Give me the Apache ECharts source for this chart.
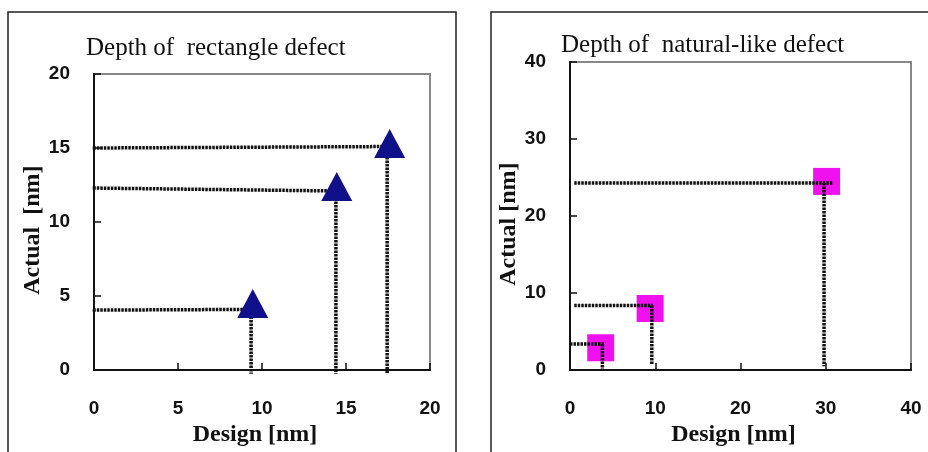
<!DOCTYPE html>
<html>
<head>
<meta charset="utf-8">
<script src="https://cdn.jsdelivr.net/npm/echarts@6/dist/echarts.min.js"></script>
<style>
  html, body { margin: 0; padding: 0; background: #fff; }
  #main { width: 928px; height: 452px; }
</style>
</head>
<body>
<div id="main"></div>
<script>
// left panel: rectangle defect (triangles)
var rectDesign = [9.45, 14.45, 17.6];
var rectActual = [4.5, 12.4, 15.3];
// guide lines drawn by hand in the original
var rectGuideX = [9.35, 14.4, 17.45];
var rectGuideYLeft = [4.05, 12.3, 15.0];
var rectGuideYRight = [4.1, 12.1, 15.1];
var rectGuideXStart = [-0.25, -0.25, -0.25];
var rectGuideBottom = [-0.25, -0.25, -0.25];

// right panel: natural-like defect (squares)
var natDesign = [3.6, 9.4, 30.1];
var natActual = [2.9, 8.0, 24.5];
var natGuideX = [3.8, 9.6, 29.8];
var natGuideY = [3.4, 8.4, 24.3];
var natGuideXStart = [0, 0.5, 0.5];
var natGuideXEnd = [4.0, 9.7, 30.9];
var natGuideBottom = [0, 0.8, 0.5];

var rectTicks = [0, 20, 5];
var natTicks = [0, 40, 10];

var myChart = echarts.init(document.getElementById('main'));

var dotLine = { color: '#111', width: 3.5, type: [2.5, 1] };
var labelFont = { fontFamily: 'Liberation Sans', fontWeight: 'bold', fontSize: 19, color: '#111' };
var nameFont = { fontFamily: 'Liberation Serif', fontWeight: 'bold', fontSize: 24, color: '#111' };
var titleFont = { fontFamily: 'Liberation Serif', fontWeight: 'normal', fontSize: 25, color: '#111' };

function guideSeries(idx, xs, ys, xe, ye) {
    var out = [];
    for (var i = 0; i < xs.length; i++) {
        out.push({
            type: 'line', xAxisIndex: idx, yAxisIndex: idx,
            data: [[xs[i], ys[i]], [xe[i], ye[i]]],
            symbol: 'none', clip: false, silent: true, z: 2,
            lineStyle: dotLine
        });
    }
    return out;
}

function makeAxis(ticks, gridIndex, isY, name, gap) {
    return {
        type: 'value', gridIndex: gridIndex,
        min: ticks[0], max: ticks[1], interval: ticks[2],
        name: name, nameLocation: 'middle', nameGap: gap,
        nameTextStyle: Object.assign({ padding: isY ? [0, 16, 0, 0] : [0, 14, 0, 0] }, nameFont),
        axisLine: { show: true, onZero: false, lineStyle: { color: '#111', width: 2 } },
        axisTick: { show: true, inside: true, length: 7, lineStyle: { color: '#111', width: 1.5 } },
        axisLabel: Object.assign({ margin: isY ? 24 : 29 }, labelFont),
        splitLine: { show: false }
    };
}

var series = [];
series = series.concat(guideSeries(0, rectGuideXStart, rectGuideYLeft, rectGuideX, rectGuideYRight));
series = series.concat(guideSeries(0, rectGuideX, rectGuideYRight, rectGuideX, rectGuideBottom));
series = series.concat(guideSeries(1, natGuideXStart, natGuideY, natGuideXEnd, natGuideY));
series = series.concat(guideSeries(1, natGuideX, natGuideY, natGuideX, natGuideBottom));

series.push({
    type: 'scatter', xAxisIndex: 0, yAxisIndex: 0, z: 5,
    symbol: 'triangle', symbolSize: [31, 29],
    itemStyle: { color: '#10108a', opacity: 1 },
    data: rectDesign.map(function (d, i) { return [d, rectActual[i]]; })
});
series.push({
    type: 'scatter', xAxisIndex: 1, yAxisIndex: 1, z: 1,
    symbol: 'rect', symbolSize: 27,
    itemStyle: { color: '#f010f0', opacity: 1 },
    data: natDesign.map(function (d, i) { return [d, natActual[i]]; })
});

option = {
    backgroundColor: '#fff',
    animation: false,
    title: [
        { text: 'Depth of  rectangle defect', left: 81, top: 31, textStyle: titleFont },
        { text: 'Depth of  natural-like defect', left: 556, top: 28, textStyle: titleFont }
    ],
    graphic: [
        { type: 'rect', shape: { x: 8, y: 12, width: 448, height: 470 },
          style: { fill: 'none', stroke: '#222', lineWidth: 1.5 } },
        { type: 'rect', shape: { x: 491, y: 12, width: 470, height: 470 },
          style: { fill: 'none', stroke: '#222', lineWidth: 1.5 } }
    ],
    grid: [
        { left: 94, top: 74, width: 336, height: 299, show: true, borderColor: '#888', borderWidth: 2, backgroundColor: '#fff' },
        { left: 570, top: 62, width: 341, height: 313, show: true, borderColor: '#888', borderWidth: 2, backgroundColor: '#fff' }
    ],
    xAxis: [
        makeAxis(rectTicks, 0, false, 'Design [nm]', 48),
        makeAxis(natTicks, 1, false, 'Design [nm]', 45)
    ],
    yAxis: [
        makeAxis(rectTicks, 0, true, 'Actual  [nm]', 49),
        makeAxis(natTicks, 1, true, 'Actual [nm]', 46)
    ],
    series: series
};

myChart.setOption(option);
</script>
</body>
</html>
